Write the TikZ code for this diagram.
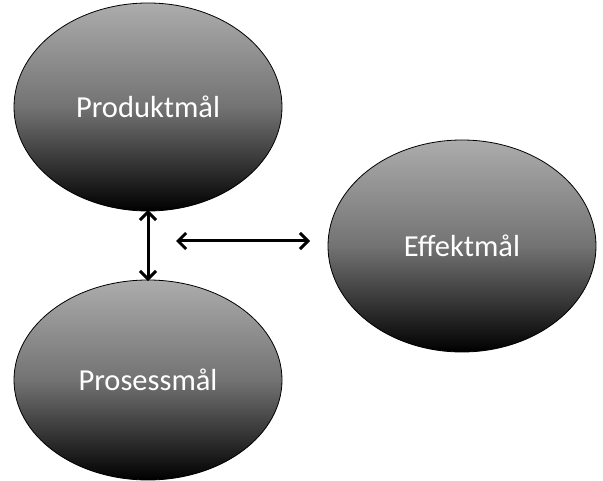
\documentclass[tikz,border=0pt]{standalone}
\usepackage{fontspec}
\setmainfont{Carlito}
\usetikzlibrary{arrows.meta,shapes.geometric}
\begin{document}
\begin{tikzpicture}[x=1pt,y=-1pt,
  goal/.style={ellipse, draw=black, line width=0.8pt, top color=gray!65, bottom color=black, middle color=gray!90!black,
     shading angle=0, inner sep=0pt, text=white, font=\fontsize{30.5}{34}\selectfont},
  link/.style={line width=3pt, {Straight Barb[length=8pt,width=16pt]}-{Straight Barb[length=8pt,width=16pt]}}]
\useasboundingbox (0,0) rectangle (603,481);
\node[goal, minimum width=268pt, minimum height=208pt] (prod) at (148,107) {Produktmål};
\node[goal, minimum width=268pt, minimum height=212pt] (eff) at (462,246) {Effektmål};
\node[goal, minimum width=268pt, minimum height=200pt] (pros) at (148,380) {Prosessmål};
\coordinate (hl) at (176,241);
\coordinate (hr) at (310,241);
\draw[link] ([yshift=1.5pt]prod.south) -- ([yshift=-1.5pt]pros.north);
\draw[link] (hl) -- (hr);
\end{tikzpicture}
\end{document}
